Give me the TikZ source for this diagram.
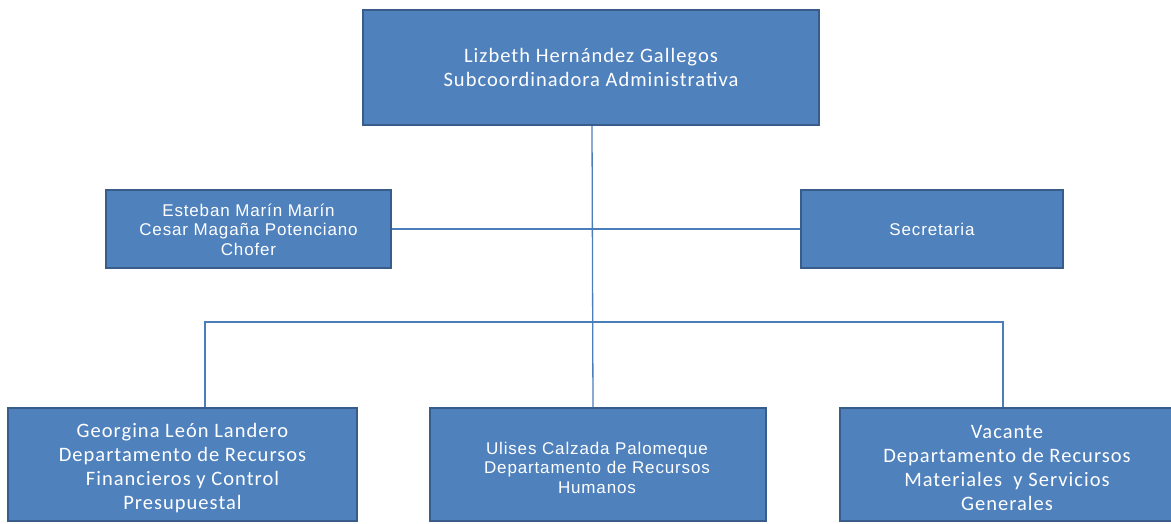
\documentclass[tikz,border=0pt]{standalone}
\usepackage{fontspec}
\setmainfont{Carlito}[LetterSpace=5]
\newfontfamily\arialfont{Liberation Sans}[LetterSpace=5]
\definecolor{boxfill}{HTML}{4F81BD}
\definecolor{boxedge}{HTML}{385D8A}
\definecolor{linkcol}{HTML}{4A7EBB}
\begin{document}
\begin{tikzpicture}[x=1pt,y=-1pt,
  unit/.style={draw=boxedge,line width=2.2pt,fill=boxfill},
  label/.style={text=white,align=center,inner sep=0pt},
  cal/.style={font=\fontsize{20.5}{23.7}\selectfont},
  ari/.style={font=\arialfont\fontsize{17}{19.5}\selectfont},
  link/.style={draw=linkcol,line width=1.3pt}]
\useasboundingbox (0,0) rectangle (1171,523);
\clip (0,0) rectangle (1171,523);
% boxes
\path[unit] (363,10) rectangle (819,125);
\node (top) [label,cal] at (591,67.5)
  {Lizbeth Hernández Gallegos\\Subcoordinadora Administrativa};
\path[unit] (106,190) rectangle (391,268);
\node (chofer) [label,ari] at (248.5,229.5)
  {Esteban Marín Marín\\Cesar Magaña Potenciano\\Chofer};
\path[unit] (801,190) rectangle (1063,268);
\node (sec) [label,ari] at (932,229.5) {Secretaria};
\path[unit] (8,408) rectangle (357,521);
\node (fin) [label,cal] at (182.5,468)
  {Georgina León Landero\\Departamento de Recursos\\Financieros y Control\\Presupuestal};
\path[unit] (430,408) rectangle (766,521);
\node (hum) [label,ari] at (597,467.5)
  {Ulises Calzada Palomeque\\Departamento de Recursos\\Humanos};
\path[unit] (840,408) rectangle (1180,521);
\node (mat) [label,cal] at (1007,468)
  {Vacante\\Departamento de Recursos\\Materiales\ \ y Servicios\\Generales};
% anchor points on the box edges
\coordinate (topS) at (592,126);
\coordinate (chofE) at (392,229);
\coordinate (secW) at (800,229);
\coordinate (finN) at (205,407);
\coordinate (humN) at (593,407);
\coordinate (matN) at (1003,407);
\coordinate (busL) at (205,322);
\coordinate (busR) at (1003,322);
% connectors
\draw[link] (topS) -- (humN);
\draw[link] (chofE) -- (secW);
\draw[link] (finN) -- (busL) -- (busR) -- (matN);
\end{tikzpicture}
\end{document}
